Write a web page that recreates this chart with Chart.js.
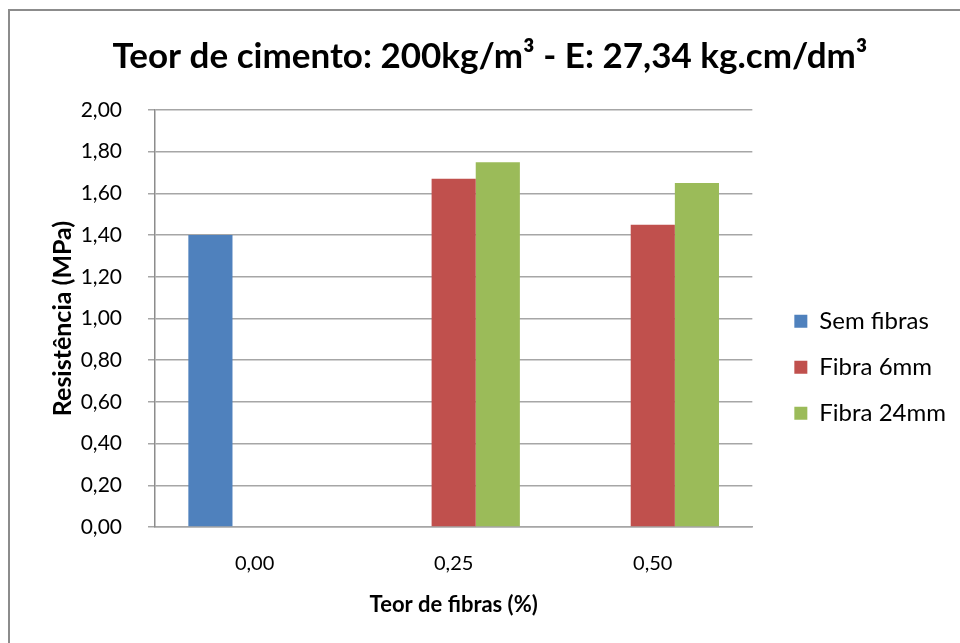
<!DOCTYPE html>
<html>
<head>
<meta charset="utf-8">
<script src="https://cdn.jsdelivr.net/npm/chart.js@4.4.0/dist/chart.umd.min.js"></script>
<style>
  html, body { margin: 0; padding: 0; background: #fff; }
  #wrap { position: relative; width: 960px; height: 643px; overflow: hidden; }
  #frame { position: absolute; left: 8px; top: 9px; right: -4px; bottom: -4px;
           border-left: 2px solid #8c8c8c; border-top: 2px solid #8c8c8c; }
  canvas { position: absolute; left: 0; top: 0; }
</style>
</head>
<body>
<div id="wrap">
  <div id="frame"></div>
  <canvas id="chart" width="960" height="643"></canvas>
</div>
<script>
// teor de fibras (%)
const categories = ['0,00', '0,25', '0,50'];
// resistência (MPa)
const semFibras = [1.40, null, null];
const fibra6mm = [null, 1.67, 1.45];
const fibra24mm = [null, 1.75, 1.65];
const yTicks = ['0,00', '0,20', '0,40', '0,60', '0,80', '1,00', '1,20', '1,40', '1,60', '1,80', '2,00'];

const fontFamily = 'Lato, "Open Sans", sans-serif';
const gridColor = '#a6a6a6';

let ctx = document.getElementById('chart').getContext('2d');

let chart = new Chart(ctx, {
    type: 'bar',
    data: {
        labels: categories,
        datasets: [
            { label: 'Sem fibras', data: semFibras, backgroundColor: '#4f81bd' },
            { label: 'Fibra 6mm', data: fibra6mm, backgroundColor: '#c0504d' },
            { label: 'Fibra 24mm', data: fibra24mm, backgroundColor: '#9bbb59' }
        ]
    },
    options: {
        responsive: false,
        animation: false,
        datasets: {
            bar: { categoryPercentage: 0.665, barPercentage: 1.0 }
        },
        layout: {
            padding: { left: 24, right: 4, top: 0, bottom: 25 }
        },
        plugins: {
            tooltip: { enabled: false },
            title: {
                display: true,
                text: 'Teor de cimento: 200kg/m³ - E: 27,34 kg.cm/dm³',
                color: '#000',
                font: { family: fontFamily, size: 35, weight: 'bold' },
                padding: { top: 36, bottom: 32 }
            },
            legend: {
                position: 'right',
                align: 'center',
                maxWidth: 300,
                // empty title, only pushes the entries lower
                title: { display: true, text: '', padding: { top: 102, bottom: 0 } },
                labels: {
                    color: '#000',
                    font: { family: fontFamily, size: 24 },
                    boxWidth: 13,
                    boxHeight: 13,
                    padding: 22
                }
            }
        },
        scales: {
            x: {
                grid: { display: false, drawTicks: false },
                border: { display: true, color: gridColor, width: 1.5 },
                ticks: { color: '#000', font: { family: fontFamily, size: 20 }, padding: 25 },
                title: {
                    display: true,
                    text: 'Teor de fibras (%)',
                    color: '#000',
                    font: { family: fontFamily, size: 22, weight: 'bold' },
                    padding: { top: 0, bottom: 0 }
                },
                afterFit: (scale) => { scale.height = 91; }
            },
            y: {
                min: 0,
                max: 2,
                ticks: {
                    stepSize: 0.2,
                    color: '#000',
                    font: { family: fontFamily, size: 21 },
                    padding: 26,
                    callback: (value, index) => yTicks[index]
                },
                grid: { color: gridColor, lineWidth: 1.5, tickLength: 7 },
                border: { display: true, color: '#8c8c8c', width: 1.5 },
                title: {
                    display: true,
                    text: 'Resistência (MPa)',
                    color: '#000',
                    font: { family: fontFamily, size: 25, weight: 'bold' },
                    padding: { top: 24, bottom: 0 }
                },
                afterFit: (scale) => { scale.width = 131; }
            },
            // blank axis on the right, only keeps a gap before the legend
            gap: {
                position: 'right',
                display: true,
                grid: { display: false, drawTicks: false },
                border: { display: false },
                ticks: { display: false },
                afterFit: (scale) => { scale.width = 20; }
            }
        }
    }
});
</script>
</body>
</html>
